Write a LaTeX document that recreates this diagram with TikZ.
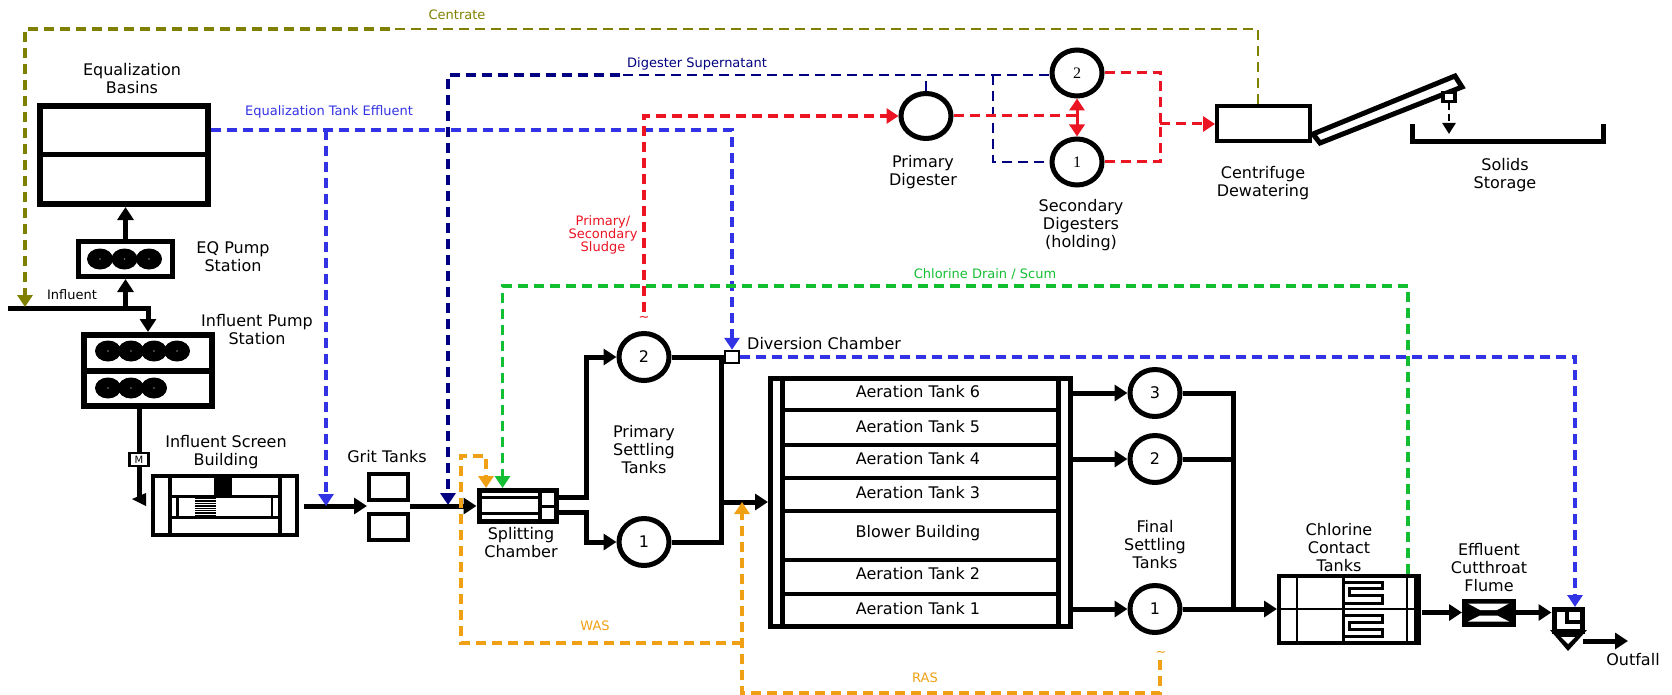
\documentclass[tikz,border=0pt]{standalone}
\usepackage{fontspec}
\setmainfont{DejaVu Sans}
\newfontfamily\digitfont{Liberation Serif}
\usepackage{tikz}
\usetikzlibrary{arrows.meta,shapes.geometric}
\definecolor{wwblue}{RGB}{51,51,230}
\definecolor{wwnavy}{RGB}{0,0,128}
\definecolor{wwgreen}{RGB}{20,190,50}
\definecolor{wworange}{RGB}{240,160,20}
\definecolor{wwred}{RGB}{235,20,35}
\definecolor{wwolive}{RGB}{128,128,0}
\tikzset{
  lbl/.style={inner sep=0pt,align=center,font=\fontsize{16}{18}\selectfont},
  tag/.style={inner sep=0pt,align=center,font=\fontsize{13}{13}\selectfont},
  tankbox/.style={draw,fill=white,line width=4pt,inner sep=0pt},
  tank/.style={draw,fill=white,ellipse,line width=5pt,inner sep=0pt,minimum width=50pt,minimum height=47pt,font=\fontsize{16}{18}\selectfont},
  pump/.style={ellipse,fill=black,inner sep=0pt,minimum width=26pt,minimum height=21pt,path picture={\fill[gray] (path picture bounding box.center) circle (.8pt);}},
  pipe/.style={line width=5pt},
  flow/.style={pipe,-{Triangle[length=13pt,width=16pt]}},
  wet/.style={line width=3.5pt,dash pattern=on 10pt off 6pt},
  wetflow/.style={wet,-{Triangle[length=12pt,width=15pt]}}
}
\begin{document}
\begin{tikzpicture}[x=1pt,y=-1pt]
        \useasboundingbox (0,0) rectangle (1672,695);
        \node[tankbox,line width=6pt,minimum width=168pt,minimum height=98pt] (eqbasin) at (124,155) {};
        \draw[line width=5pt] (eqbasin.west)--(eqbasin.east);
        \node[tankbox,line width=5pt,minimum width=94pt,minimum height=35pt] (eqpump) at (125.5,259) {};
        \node[pump] (eqa) at (100,259) {};
        \node[pump] (eqb) at (124.5,259) {};
        \node[pump] (eqc) at (149,259) {};
        \node[tankbox,line width=6pt,minimum width=128pt,minimum height=71pt] (ipump) at (148,370.5) {};
        \draw[line width=6pt] (ipump.west)--(ipump.east);
        \node[pump] (ipa) at (108,351) {};
        \node[pump] (ipb) at (131,351) {};
        \node[pump] (ipc) at (154,351) {};
        \node[pump] (ipd) at (177,351) {};
        \node[pump] (ipe) at (108,388) {};
        \node[pump] (ipf) at (131,388) {};
        \node[pump] (ipg) at (154,388) {};
        \node[tankbox,line width=2.5pt,minimum width=19pt,minimum height=13pt,font=\fontsize{10}{10}\selectfont] (mbox) at (139,459.5) {M};
        \node[tankbox,minimum width=144pt,minimum height=59pt] (screen) at (225,505.5) {};
        \draw[line width=4pt] (170,476)--(170,535) (280,476)--(280,535);
        \draw[line width=3pt] (170,496.5)--(280,496.5) (170,517)--(280,517);
        \draw[line width=2.5pt] (177.5,497)--(177.5,516) (272,497)--(272,516);
        \fill (213.5,477)--(232,477)--(232,496)--(213.5,496)--cycle;
        \draw[line width=21pt,dash pattern=on 1.4pt off 1pt] (205.5,498)--(205.5,516);
        \node[tankbox,minimum width=39pt,minimum height=26pt] (grita) at (388.5,487) {};
        \node[tankbox,minimum width=39pt,minimum height=26pt] (gritb) at (388.5,527) {};
        \node[tankbox,line width=5pt,minimum width=77pt,minimum height=31pt] (splitter) at (517.5,506) {};
        \draw[line width=3pt] (480,497)--(540,497) (480,513)--(540,513);
        \draw[line width=4pt] (540,490)--(540,522);
        \draw[line width=3pt] (540,506)--(556,506);
        \node[tank] (psta) at (644,357) {2};
        \node[tank] (pstb) at (644,542) {1};
        \node[tankbox,line width=2.5pt,minimum width=14pt,minimum height=12pt] (diversion) at (732,357) {};
        \node[tankbox,line width=5pt,minimum width=300pt,minimum height=248pt] (aeration) at (920.5,502.5) {};
        \draw[line width=5pt] (782.5,378)--(782.5,627) (1058.5,378)--(1058.5,627);
        \draw[line width=4.5pt] (782,410)--(1058,410) (782,445)--(1058,445) (782,478)--(1058,478) (782,511)--(1058,511) (782,560)--(1058,560) (782,594)--(1058,594);
        \node[lbl] (atsix) at (918,392) {Aeration Tank 6};
        \node[lbl] (atfive) at (918,427) {Aeration Tank 5};
        \node[lbl] (atfour) at (918,459) {Aeration Tank 4};
        \node[lbl] (atthree) at (918,493) {Aeration Tank 3};
        \node[lbl] (blower) at (918,533) {Blower Building};
        \node[lbl] (attwo) at (918,574) {Aeration Tank 2};
        \node[lbl] (atone) at (918,609) {Aeration Tank 1};
        \node[tank] (fstc) at (1155,393) {3};
        \node[tank] (fstb) at (1155,459) {2};
        \node[tank] (fsta) at (1155,609) {1};
        \node[tankbox,minimum width=140pt,minimum height=67pt] (chlorine) at (1349,609.5) {};
        \draw[line width=6pt] (1417,574)--(1417,645);
        \draw[line width=2pt] (1297,576)--(1297,643) (1407,576)--(1407,643) (1279,609)--(1415,609);
        \draw[line width=3pt] (1343,576)--(1343,643);
        \draw[line width=3pt] (1344,582)--(1382,582)--(1382,588)--(1349,588)--(1349,595)--(1382,595)--(1382,603)--(1344,603) (1344,615)--(1382,615)--(1382,622)--(1349,622)--(1349,629)--(1382,629)--(1382,636)--(1344,636);
        \node[draw,fill=black,line width=0pt,inner sep=0pt,minimum width=53pt,minimum height=27pt] (flume) at (1488.5,612.5) {};
        \fill[white] (1468,603.5)--(1509,603.5)--(1497,610)--(1480,610)--cycle (1480,615.5)--(1497,615.5)--(1509,621.5)--(1468,621.5)--cycle;
        \node[tankbox,line width=5pt,minimum width=28pt,minimum height=22pt] (outfall) at (1568,620) {};
        \draw[line width=4pt] (1567,610)--(1567,622)--(1582,622);
        \fill (1550,630)--(1587,630)--(1568,651)--cycle;
        \fill[white] (1561,637)--(1575,637)--(1568,644)--cycle;
        \node[tank,minimum height=45pt] (pdigester) at (926,116) {};
        \node[tank,minimum height=46pt,font=\digitfont\fontsize{16}{18}\selectfont] (seca) at (1077,73) {2};
        \node[tank,minimum height=46pt,font=\digitfont\fontsize{16}{18}\selectfont] (secb) at (1077,162) {1};
        \node[tankbox,minimum width=93pt,minimum height=35pt] (centrifuge) at (1263.5,123.5) {};
        \draw[line width=5pt,fill=white] (1313,134)--(1455,76)--(1462,87)--(1320,143)--cycle;
        \node[tankbox,line width=3.5pt,minimum width=12pt,minimum height=9pt] (hopper) at (1449,97) {};
        \draw[pipe] (1412,124)--(1412,142)--(1603,142)--(1603,124);
        \coordinate (inflow) at (8,308);
        \coordinate (eqtee) at (eqpump.south|-inflow);
        \coordinate (ipumpout) at (139,409);
        \coordinate (mscreen) at (139,497);
        \coordinate (screenout) at (304,506);
        \coordinate (gritin) at (367,506);
        \coordinate (gritout) at (410,506);
        \coordinate (splita) at (558,497);
        \coordinate (splitb) at (558,512);
        \coordinate (pstbus) at (586,430);
        \coordinate (pstout) at (721,502);
        \coordinate (fstbus) at (1233,609);
        \coordinate (flumein) at (1422,612.5);
        \coordinate (outfallin) at (1516,612.5);
        \coordinate (outfallout) at (1583,641);
        \coordinate (outfallend) at (1628,641);
        \draw[pipe] (inflow)--(eqtee);
        \draw[flow] (eqtee)--(eqpump.south);
        \draw[flow] (eqpump.north)--(eqpump.north|-eqbasin.south);
        \draw[flow] (eqtee)-|(ipump.north);
        \draw[pipe] (ipumpout)--(mbox);
        \draw[pipe] (mbox)--(mscreen);
        \fill (132,499)--(146,493)--(146,506)--cycle;
        \draw[flow] (screenout)--(gritin);
        \draw[flow] (gritout)--(gritout-|splitter.west);
        \draw[flow] (splita)--(pstbus|-splita)|-(psta.west);
        \draw[flow] (splitb)--(pstbus|-splitb)|-(pstb.west);
        \draw[pipe] (psta.east)--(diversion.west);
        \draw[pipe] (psta.east)-|(pstout)|-(pstb.east);
        \draw[flow] (pstout)--(pstout-|aeration.west);
        \draw[flow] (fstc.west-|aeration.east)--(fstc.west);
        \draw[flow] (fstb.west-|aeration.east)--(fstb.west);
        \draw[flow] (fsta.west-|aeration.east)--(fsta.west);
        \draw[pipe] (fstc.east)-|(fstbus);
        \draw[pipe] (fstb.east)-|(fstbus);
        \draw[pipe] (fsta.east)--(fstbus);
        \draw[flow] (fstbus)--(fstbus-|chlorine.west);
        \draw[flow] (flumein)--(flume.west);
        \draw[flow] (outfallin)--(outfallin-|outfall.west);
        \draw[flow] (outfallout)--(outfallend);
        \coordinate (eqout) at (211,130);
        \coordinate (bluetee) at (326,130);
        \coordinate (bluetip) at (326,506);
        \coordinate (outfalltop) at (1575,607);
        \draw[wetflow,wwblue] (eqout)-|(diversion.north);
        \draw[wetflow,wwblue] (bluetee)--(bluetip);
        \draw[wetflow,wwblue] (diversion.east)-|(outfalltop);
        \coordinate (secin) at (1049,75);
        \coordinate (navybreak) at (620,75);
        \coordinate (navytip) at (448,505);
        \coordinate (navytee) at (993,75);
        \draw[wet,wwnavy,line width=2.5pt] (secin)--(navybreak);
        \draw[wetflow,wwnavy] (navybreak)-|(navytip);
        \draw[wet,wwnavy,line width=2.5pt] (pdigester.north)--(pdigester.north|-secin);
        \draw[wet,wwnavy,line width=2.5pt] (navytee)|-(secb.west);
        \coordinate (redstart) at (644,312);
        \coordinate (redcorner) at (644,116);
        \coordinate (redtee) at (1077,116);
        \coordinate (redjoin) at (1160,124);
        \draw[wetflow,wwred] (redstart)--(redcorner)--(pdigester.west);
        \draw[wet,wwred,line width=3pt] (pdigester.east)--(redtee);
        \draw[wetflow,wwred,line width=3pt] (redtee)--(seca.south);
        \draw[wetflow,wwred,line width=3pt] (redtee)--(secb.north);
        \draw[wet,wwred,line width=3pt] (seca.east)-|(redjoin);
        \draw[wet,wwred,line width=3pt] (secb.east)-|(redjoin);
        \draw[wetflow,wwred,line width=3pt] (redjoin)--(redjoin-|centrifuge.west);
        \coordinate (centrateout) at (1258,104);
        \coordinate (centratebreak) at (390,29);
        \coordinate (centratetip) at (25,307);
        \draw[wet,wwolive,line width=2.5pt] (centrateout)|-(centratebreak);
        \draw[wetflow,wwolive,line width=4pt] (centratebreak)-|(centratetip);
        \coordinate (clout) at (1408,574);
        \coordinate (greentop) at (502.5,286);
        \coordinate (greentip) at (502.5,488);
        \draw[wetflow,wwgreen] (clout)|-(greentop)--(greentip);
        \coordinate (wasstart) at (742,643);
        \coordinate (wasleft) at (461,643);
        \coordinate (wastop) at (461,456);
        \coordinate (wastip) at (486,488);
        \draw[wetflow,wworange] (wasstart)--(wasleft)--(wastop)-|(wastip);
        \coordinate (rasstart) at (1160,660);
        \coordinate (rasleft) at (742,693);
        \coordinate (rastip) at (742,502);
        \draw[wetflow,wworange] (rasstart)|-(rasleft)--(rastip);
        \coordinate (hopperend) at (1449,134);
        \draw[line width=2.5pt,dash pattern=on 7pt off 4pt,-{Triangle[length=11pt,width=13pt]}] (hopper.south)--(hopperend);
        \node[lbl] (lbeq) at (132,79) {Equalization\\Basins};
        \node[lbl] (lbeqp) at (233,257) {EQ Pump\\Station};
        \node[tag] (lbinf) at (72,295) {Influent};
        \node[lbl] (lbip) at (257,330) {Influent Pump\\Station};
        \node[lbl] (lbscreen) at (226,452) {Influent Screen\\Building};
        \node[lbl] (lbgrit) at (387,457) {Grit Tanks};
        \node[lbl] (lbsplit) at (521,543) {Splitting\\Chamber};
        \node[lbl] (lbpst) at (644,450) {Primary\\Settling\\Tanks};
        \node[lbl,anchor=west] (lbdiv) at (747,344) {Diversion Chamber};
        \node[lbl] (lbfst) at (1155,545) {Final\\Settling\\Tanks};
        \node[lbl] (lbcl) at (1339,548) {Chlorine\\Contact\\Tanks};
        \node[lbl] (lbflume) at (1489,568) {Effluent\\Cutthroat\\Flume};
        \node[lbl] (lboutfall) at (1633,660) {Outfall};
        \node[lbl] (lbpd) at (923,172) {Primary\\Digester};
        \node[lbl] (lbsd) at (1081,225) {Secondary\\Digesters\\(holding)};
        \node[lbl] (lbcd) at (1263,183) {Centrifuge\\Dewatering};
        \node[lbl] (lbss) at (1505,175) {Solids\\Storage};
        \node[tag,text=wwolive] (lbcentrate) at (457,15) {Centrate};
        \node[tag,text=wwnavy] (lbsuper) at (697,64) {Digester Supernatant};
        \node[tag,text=wwblue] (lbeqt) at (329,112) {Equalization Tank Effluent};
        \node[tag,text=wwred] (lbsludge) at (603,235) {Primary/\\Secondary\\Sludge};
        \node[tag,text=wwgreen] (lbcds) at (985,274) {Chlorine Drain / Scum};
        \node[tag,text=wworange] (lbwas) at (595,626) {WAS};
        \node[tag,text=wworange] (lbras) at (925,678) {RAS};
        \node[tag,text=wwred] (lbtildea) at (644,319) {\textasciitilde};
        \node[tag,text=wworange] (lbtildeb) at (1161,654) {\textasciitilde};
      \end{tikzpicture}
\end{document}
